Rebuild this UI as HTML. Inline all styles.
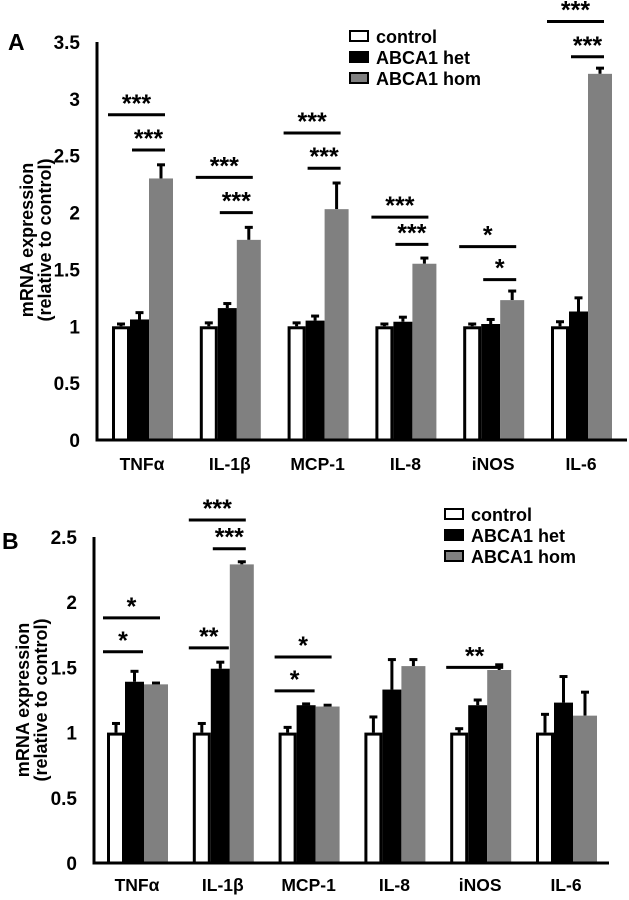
<!DOCTYPE html>
<html><head><meta charset="utf-8"><style>
body{margin:0;background:#fff;}
svg{display:block;font-family:"Liberation Sans",Arial,sans-serif;font-weight:bold;}
</style></head><body>
<svg id="chart" width="629" height="900" viewBox="0 0 629 900"></svg>
<script>
const categories=["TNFα","IL-1β","MCP-1","IL-8","iNOS","IL-6"];
const seriesNames=["control","ABCA1 het","ABCA1 hom"];
const aControl=[1,1,1,1,1,1];
const aHet=[1.06,1.16,1.05,1.04,1.02,1.13];
const aHom=[2.3,1.76,2.03,1.55,1.23,3.22];
const aControlErr=[0.02,0.03,0.03,0.02,0.02,0.04];
const aHetErr=[0.06,0.04,0.04,0.04,0.04,0.12];
const aHomErr=[0.12,0.11,0.23,0.05,0.08,0.05];
const bControl=[1,1,1,1,1,1];
const bHet=[1.39,1.49,1.21,1.33,1.21,1.23];
const bHom=[1.37,2.29,1.2,1.51,1.48,1.13];
const bControlErr=[0.07,0.07,0.04,0.12,0.03,0.14];
const bHetErr=[0.08,0.05,0.01,0.23,0.04,0.2];
const bHomErr=[0.01,0.02,0.01,0.05,0.04,0.18];
const aTicks=[0,0.5,1,1.5,2,2.5,3,3.5];
const bTicks=[0,0.5,1,1.5,2,2.5];
// significance: [category index, from series, to series, level(value), label]
const aSig=[[0,0,2,2.86,"***"],[0,1,2,2.55,"***"],[1,0,2,2.31,"***"],[1,1,2,2.0,"***"],[2,0,2,2.7,"***"],[2,1,2,2.39,"***"],[3,0,2,1.96,"***"],[3,1,2,1.72,"***"],[4,0,2,1.7,"*"],[4,1,2,1.41,"*"],[5,0,2,3.68,"***"],[5,1,2,3.37,"***"]];
const bSig=[[0,0,2,1.88,"*"],[0,0,1,1.62,"*"],[1,0,2,2.63,"***"],[1,1,2,2.41,"***"],[1,0,1,1.65,"**"],[2,0,2,1.58,"*"],[2,0,1,1.32,"*"],[4,0,2,1.5,"**"]];

const NS="http://www.w3.org/2000/svg";
const svg=document.getElementById('chart');
function mk(tag,attrs,parent){const e=document.createElementNS(NS,tag);for(const k in attrs)e.setAttribute(k,attrs[k]);(parent||svg).appendChild(e);return e;}

function panel(cfg){
  const g=mk('g',{});
  
  
  const y=v=>cfg.y0-(v/cfg.ymax)*(cfg.y0-cfg.yTop);
  const gx=i=>cfg.x0+i*cfg.step;
  const fills=["#fff","#000","#808080"];
  const offs=[0,18,37], widths=[18,19,24];
  cfg.series.forEach((vals,s)=>{
    vals.forEach((v,i)=>{
      const x=gx(i)+offs[s], w=widths[s];
      const er=cfg.errs[s][i];
      const eb=mk('line',{x1:x+w/2,x2:x+w/2,y1:y(v),y2:y(v+er),stroke:'#000','stroke-width':3},g);
      
      
      const cap=mk('line',{x1:x+w/2-4,x2:x+w/2+4,y1:y(v+er),y2:y(v+er),stroke:'#000','stroke-width':3},g);
      
      
      let r;
      if(s===0) r=mk('rect',{x:x+1.5,y:y(v)+1.5,width:w-3,height:cfg.y0-y(v)-1.5,fill:'#fff',stroke:'#000','stroke-width':3},g);
      else r=mk('rect',{x:x,y:y(v),width:w,height:cfg.y0-y(v),fill:fills[s]},g);
      
      
    });
  });
  const ax=mk('line',{x1:cfg.axX,x2:cfg.axX,y1:cfg.yTop,y2:cfg.y0+1.5,stroke:'#000','stroke-width':3},g);
  
  
  const bx=mk('line',{x1:cfg.axX-1.5,x2:cfg.axEnd,y1:cfg.y0,y2:cfg.y0,stroke:'#000','stroke-width':3},g);
  
  
  cfg.ticks.forEach(t=>{
    const tx=mk('text',{x:cfg.axX-17,y:y(t)+7,'text-anchor':'end','font-size':19},g);
    tx.textContent=String(t);
    
    
  });
  categories.forEach((c,i)=>{
    const tx=mk('text',{x:gx(i)+30,y:cfg.labY,'text-anchor':'middle','font-size':17.5},g);
    tx.textContent=c;
    
    
  });
  cfg.sig.forEach(sg=>{
    const [i,a,b,lv,lab]=sg;
    const xa=gx(i)+offs[a]+(a===0?-4:0)+(a===1?2:0), xb=gx(i)+offs[b]+widths[b]-(b===2?8:1);
    const ln=mk('line',{x1:xa,x2:xb,y1:y(lv),y2:y(lv),stroke:'#000','stroke-width':3},g);
    
    
    const st=mk('text',{x:(xa+xb)/2,y:y(lv)-3,'text-anchor':'middle','font-size':25},g);
    st.textContent=lab;
    
    
  });
  const yt=mk('text',{transform:`translate(${cfg.titleX},${cfg.titleY}) rotate(-90)`,'text-anchor':'middle','font-size':18},g);
  const t1=mk('tspan',{x:0,dy:0},yt);t1.textContent='mRNA expression';
  const t2=mk('tspan',{x:0,dy:18},yt);t2.textContent='(relative to control)';
  
  
  const pl=mk('text',{x:cfg.letterX,y:cfg.letterY,'font-size':23},g);
  pl.textContent=cfg.letter;
  
  
  const lg=mk('g',{},g);
  
  
  seriesNames.forEach((n,s)=>{
    const ry=cfg.legY+s*21;
    const r=mk('rect',{x:cfg.legX+1,y:ry+1,width:18,height:10,fill:fills[s],stroke:'#000','stroke-width':2},lg);
    
    
    const tx=mk('text',{x:cfg.legX+27,y:ry+13,'font-size':18},lg);
    tx.textContent=n;
    
    
  });
}
panel({name:'panel-a',letter:'A',letterX:8,letterY:50,y0:440,yTop:42,ymax:3.5,axX:97,axEnd:627,x0:112,step:87.8,labY:470,
  series:[aControl,aHet,aHom],errs:[aControlErr,aHetErr,aHomErr],ticks:aTicks,sig:aSig,titleX:33,titleY:240,legX:349,legY:30});
panel({name:'panel-b',letter:'B',letterX:2,letterY:549,y0:863,yTop:537,ymax:2.5,axX:94,axEnd:609,x0:107,step:85.8,labY:891,
  series:[bControl,bHet,bHom],errs:[bControlErr,bHetErr,bHomErr],ticks:bTicks,sig:bSig,titleX:29,titleY:700,legX:444,legY:508});
</script>
</body></html>
